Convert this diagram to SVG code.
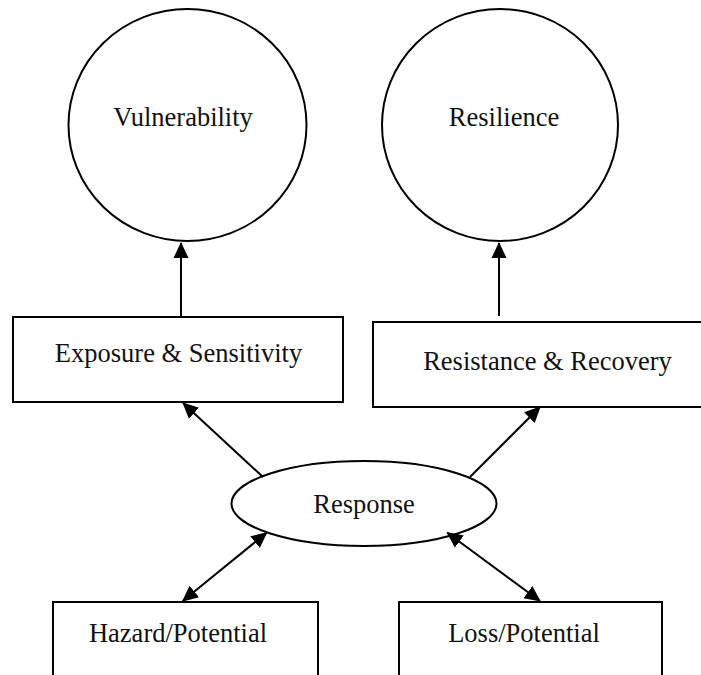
<svg xmlns="http://www.w3.org/2000/svg" width="701" height="675" viewBox="0 0 701 675">
  <style>
    .shape { fill: #fff; stroke: #000; stroke-width: 2; }
    .label { font-family: "Liberation Serif", "Times New Roman", serif; font-size: 26.5px; fill: #111; text-anchor: middle; }
    .edge { fill: none; stroke: #000; stroke-width: 2; }
  </style>
  <defs>
    <marker id="arrow" markerUnits="userSpaceOnUse" markerWidth="16" markerHeight="16" viewBox="0 0 16 15" refX="15" refY="7.5" orient="auto-start-reverse">
      <path d="M0,0 L16,7.5 L0,15 z" fill="#000"/>
    </marker>
  </defs>
  <rect width="701" height="675" fill="#fff"/>

  <g id="vulnerability">
    <ellipse class="shape" cx="187.5" cy="125" rx="119" ry="116"/>
    <text class="label" x="183" y="126">Vulnerability</text>
  </g>
  <g id="resilience">
    <ellipse class="shape" cx="500" cy="125" rx="118" ry="116"/>
    <text class="label" x="504" y="126">Resilience</text>
  </g>
  <g id="exposure-sensitivity">
    <rect class="shape" x="13" y="317" width="330" height="85"/>
    <text class="label" x="178.5" y="362">Exposure &amp; Sensitivity</text>
  </g>
  <g id="resistance-recovery">
    <rect class="shape" x="373" y="322" width="340" height="85"/>
    <text class="label" x="547.5" y="370">Resistance &amp; Recovery</text>
  </g>
  <g id="response">
    <ellipse class="shape" cx="364" cy="503.5" rx="132.5" ry="42.5"/>
    <text class="label" x="364" y="513">Response</text>
  </g>
  <g id="hazard-potential">
    <rect class="shape" x="53" y="602" width="265" height="90"/>
    <text class="label" x="178" y="642">Hazard/Potential</text>
  </g>
  <g id="loss-potential">
    <rect class="shape" x="399" y="602" width="263" height="90"/>
    <text class="label" x="524" y="642">Loss/Potential</text>
  </g>

  <g id="connectors">
    <line class="edge" x1="181" y1="316" x2="181" y2="243" marker-end="url(#arrow)"/>
    <line class="edge" x1="499" y1="316" x2="499" y2="243" marker-end="url(#arrow)"/>
    <line class="edge" x1="263" y1="477" x2="183" y2="403" marker-end="url(#arrow)"/>
    <line class="edge" x1="470" y1="477" x2="540" y2="407" marker-end="url(#arrow)"/>
    <line class="edge" x1="182.7" y1="601" x2="266.7" y2="532.7" marker-start="url(#arrow)" marker-end="url(#arrow)"/>
    <line class="edge" x1="540" y1="601" x2="447.3" y2="532.7" marker-start="url(#arrow)" marker-end="url(#arrow)"/>
  </g>
</svg>
